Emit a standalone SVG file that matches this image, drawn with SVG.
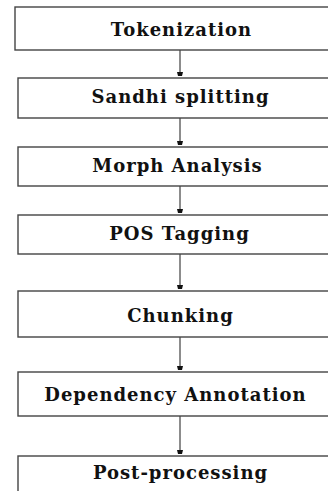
<svg xmlns="http://www.w3.org/2000/svg" width="328" height="491" viewBox="0 0 328 491">
  <defs>
    <marker id="head" viewBox="0 0 4 7" refX="4" refY="3.5" markerUnits="userSpaceOnUse" markerWidth="4" markerHeight="7" orient="auto">
      <path d="M0,0.5 L4,1.5 L4,5.5 L0,6.5 Z" fill="#111"/>
    </marker>
  </defs>
  <style>
    .box { fill: #ffffff; stroke: #444; stroke-width: 1.4; }
    .label { font-family: "DejaVu Serif", "Liberation Serif", serif; font-weight: bold; font-size: 18px; letter-spacing: 1px; fill: #111; text-anchor: middle; }
    .edge { stroke: #666; stroke-width: 1.5; fill: none; marker-end: url(#head); }
  </style>
  <rect width="328" height="491" fill="#ffffff"/>

  <g id="connectors">
    <line class="edge" x1="180" y1="50" x2="180" y2="76"/>
    <line class="edge" x1="180" y1="118" x2="180" y2="145"/>
    <line class="edge" x1="180" y1="186" x2="180" y2="213"/>
    <line class="edge" x1="180" y1="254" x2="180" y2="289"/>
    <line class="edge" x1="180" y1="337" x2="180" y2="370"/>
    <line class="edge" x1="180" y1="416" x2="180" y2="454"/>
  </g>

  <g id="tokenization">
    <rect class="box" x="15" y="7" width="330" height="43" stroke="#111"/>
    <text class="label" x="181.5" y="36">Tokenization</text>
  </g>
  <g id="sandhi-splitting">
    <rect class="box" x="18" y="78" width="330" height="40"/>
    <text class="label" x="180.5" y="103">Sandhi splitting</text>
  </g>
  <g id="morph-analysis">
    <rect class="box" x="18" y="147" width="330" height="39"/>
    <text class="label" x="177.5" y="172">Morph Analysis</text>
  </g>
  <g id="pos-tagging">
    <rect class="box" x="18" y="215" width="330" height="39"/>
    <text class="label" x="179.5" y="240">POS Tagging</text>
  </g>
  <g id="chunking">
    <rect class="box" x="18" y="291" width="330" height="46"/>
    <text class="label" x="180.5" y="322">Chunking</text>
  </g>
  <g id="dependency-annotation">
    <rect class="box" x="18" y="372" width="330" height="44"/>
    <text class="label" x="175.5" y="401">Dependency Annotation</text>
  </g>
  <g id="post-processing">
    <rect class="box" x="18" y="456" width="330" height="60"/>
    <text class="label" x="180.5" y="479">Post-processing</text>
  </g>
</svg>
